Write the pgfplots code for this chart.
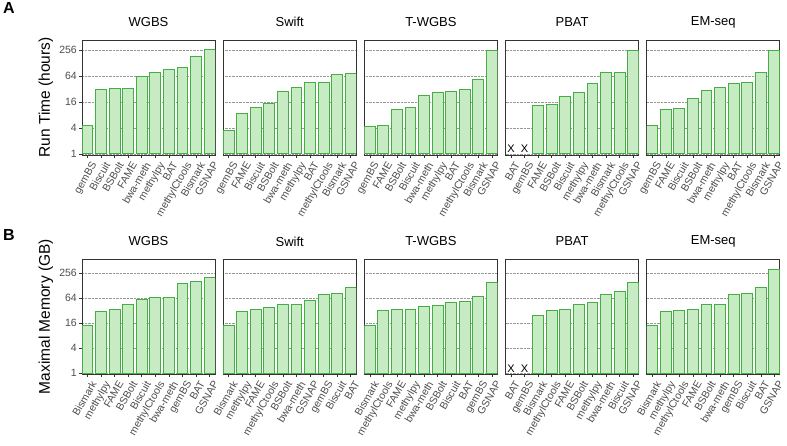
\documentclass[border=0pt]{standalone}
\usepackage{fontspec}
\setmainfont{Liberation Sans}
\usepackage{pgfplots}
\pgfplotsset{compat=1.18}
\definecolor{barfill}{HTML}{C7EBC3}
\definecolor{barline}{HTML}{44AD44}
\definecolor{axtext}{HTML}{4D4D4D}
\definecolor{frame}{HTML}{333333}
\pgfplotsset{
  every axis/.append style={
    set layers, axis on top=false,
    scale only axis, width=133pt,
    xmin=0.6, xmax=10.4, xtick={1,2,3,4,5,6,7,8,9,10},
    ytick={1,4,16,64,256}, yticklabels={1,4,16,64,256},
    ymajorgrids, grid style={densely dotted, gray!80, line width=0.4pt},
    axis line style={frame, line width=0.7pt},
    tick align=outside, major tick length=3pt, tick style={frame, line width=0.6pt},
    xtick pos=bottom, ytick pos=left,
    x tick label style={rotate=60, anchor=north east, font=\fontsize{10.5}{10.5}\selectfont, text=axtext, inner sep=1pt, yshift=-3pt},
    y tick label style={font=\fontsize{10.5}{10.5}\selectfont, text=axtext, inner sep=2pt},
    title style={at={(axis description cs:0.5,1.104)}, anchor=center, font=\fontsize{13}{13}\selectfont},
    ylabel style={at={(axis description cs:-0.271,0.5)}, anchor=center, font=\fontsize{15.5}{15.5}\selectfont},
    bar width=0.8,
  },
  rowA/.style={ymin=0.946, ymax=446, height=115pt},
  rowB/.style={ymin=0.962, ymax=556, height=114.7pt},
  noylab/.style={yticklabels={}, ytick style={draw=none}},
}
\newcommand{\bars}{\addplot[ybar, bar shift=0pt, fill=barfill, draw=barline, line width=1pt]}
\begin{document}
\begin{tikzpicture}
% ---------------- Row A: run time ----------------
\begin{semilogyaxis}[log basis y=2, rowA, at={(82pt,290pt)}, anchor=south west, title={WGBS},
  ylabel={Run Time (hours)},
  xticklabels={gemBS,Biscuit,BSBolt,FAME,bwa-meth,methylpy,BAT,methylCtools,Bismark,GSNAP}]
\bars coordinates {(1,4.7) (2,30.7) (3,33) (4,33) (5,64) (6,79) (7,93) (8,104) (9,187) (10,271)};
\end{semilogyaxis}
\begin{semilogyaxis}[log basis y=2, rowA, noylab, at={(223.2pt,290pt)}, anchor=south west, title={Swift},
  xticklabels={gemBS,FAME,Biscuit,BSBolt,bwa-meth,methylpy,BAT,methylCtools,Bismark,GSNAP}]
\bars coordinates {(1,3.5) (2,8.5) (3,12) (4,14.8) (5,29) (6,35.5) (7,45.5) (8,47) (9,70) (10,76)};
\end{semilogyaxis}
\begin{semilogyaxis}[log basis y=2, rowA, noylab, at={(364.4pt,290pt)}, anchor=south west, title={T-WGBS},
  xticklabels={gemBS,FAME,BSBolt,Biscuit,bwa-meth,methylpy,BAT,methylCtools,Bismark,GSNAP}]
\bars coordinates {(1,4.4) (2,4.7) (3,10.9) (4,12) (5,23) (6,27) (7,27.6) (8,30.7) (9,54.5) (10,261)};
\end{semilogyaxis}
\begin{semilogyaxis}[log basis y=2, rowA, noylab, at={(505.6pt,290pt)}, anchor=south west, title={PBAT},
  xticklabels={BAT,gemBS,FAME,BSBolt,Biscuit,methylpy,bwa-meth,Bismark,methylCtools,GSNAP}]
\bars coordinates {(3,13.3) (4,13.8) (5,21.5) (6,26.6) (7,44) (8,77.7) (9,78.5) (10,252)};
\node[font=\fontsize{11}{11}\selectfont] at (axis cs:1,1.3) {X};
\node[font=\fontsize{11}{11}\selectfont] at (axis cs:2,1.3) {X};
\end{semilogyaxis}
\begin{semilogyaxis}[log basis y=2, rowA, noylab, at={(646.8pt,290pt)}, anchor=south west, title={EM-seq},
  xticklabels={gemBS,FAME,Biscuit,BSBolt,bwa-meth,methylpy,BAT,methylCtools,Bismark,GSNAP}]
\bars coordinates {(1,4.5) (2,10.9) (3,11.7) (4,19.7) (5,29.6) (6,35.5) (7,43) (8,45.5) (9,79) (10,252)};
\end{semilogyaxis}
% ---------------- Row B: memory ----------------
\begin{semilogyaxis}[log basis y=2, rowB, at={(82pt,71pt)}, anchor=south west, title={WGBS},
  ylabel={Maximal Memory (GB)},
  xticklabels={Bismark,methylpy,FAME,BSBolt,Biscuit,methylCtools,bwa-meth,gemBS,BAT,GSNAP}]
\bars coordinates {(1,13.8) (2,30.5) (3,34.8) (4,45.9) (5,59.3) (6,66) (7,67.6) (8,147) (9,161) (10,201)};
\end{semilogyaxis}
\begin{semilogyaxis}[log basis y=2, rowB, noylab, at={(223.2pt,71pt)}, anchor=south west, title={Swift},
  xticklabels={Bismark,methylpy,FAME,methylCtools,BSBolt,bwa-meth,GSNAP,gemBS,Biscuit,BAT}]
\bars coordinates {(1,13.8) (2,30) (3,34) (4,37.4) (5,45.9) (6,45.5) (7,58) (8,77) (9,84.4) (10,115)};
\end{semilogyaxis}
\begin{semilogyaxis}[log basis y=2, rowB, noylab, at={(364.4pt,71pt)}, anchor=south west, title={T-WGBS},
  xticklabels={Bismark,methylCtools,FAME,methylpy,bwa-meth,BSBolt,Biscuit,BAT,gemBS,GSNAP}]
\bars coordinates {(1,13.8) (2,32.2) (3,33.5) (4,34.8) (5,40.2) (6,44) (7,51.3) (8,53) (9,71.5) (10,155)};
\end{semilogyaxis}
\begin{semilogyaxis}[log basis y=2, rowB, noylab, at={(505.6pt,71pt)}, anchor=south west, title={PBAT},
  xticklabels={BAT,gemBS,Bismark,methylCtools,FAME,BSBolt,methylpy,bwa-meth,Biscuit,GSNAP}]
\bars coordinates {(3,25) (4,32.2) (5,34) (6,45) (7,50) (8,80) (9,91) (10,152)};
\node[font=\fontsize{11}{11}\selectfont] at (axis cs:1,1.3) {X};
\node[font=\fontsize{11}{11}\selectfont] at (axis cs:2,1.3) {X};
\end{semilogyaxis}
\begin{semilogyaxis}[log basis y=2, rowB, noylab, at={(646.8pt,71pt)}, anchor=south west, title={EM-seq},
  xticklabels={Bismark,methylpy,methylCtools,FAME,BSBolt,bwa-meth,gemBS,Biscuit,BAT,GSNAP}]
\bars coordinates {(1,14.3) (2,30) (3,33) (4,34.8) (5,45.9) (6,45.9) (7,81) (8,83) (9,118) (10,320)};
\end{semilogyaxis}
% panel letters
\node[anchor=base west, font=\bfseries\fontsize{16}{16}\selectfont, inner sep=0pt] at (3pt,431.7pt) {A};
\node[anchor=base west, font=\bfseries\fontsize{16}{16}\selectfont, inner sep=0pt] at (3pt,204.5pt) {B};
\pgfresetboundingbox
\path (0pt,0pt) rectangle (787pt,445pt);
\end{tikzpicture}
\end{document}
